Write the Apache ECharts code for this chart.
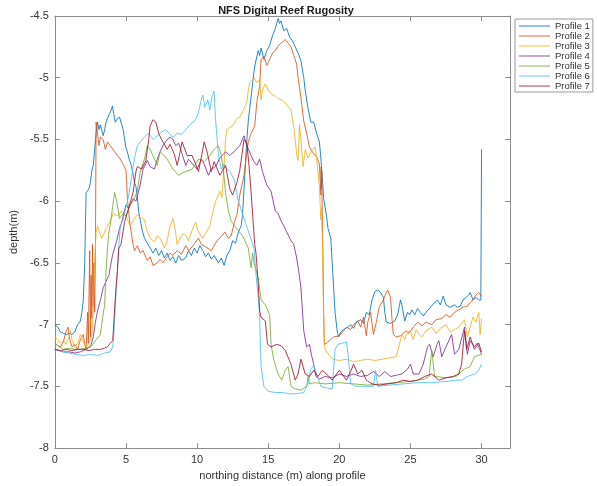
<!DOCTYPE html>
<html>
<head>
<meta charset="utf-8">
<title>NFS Digital Reef Rugosity</title>
<script src="https://cdn.jsdelivr.net/npm/echarts@6/dist/echarts.min.js"></script>
<style>
  html, body { margin: 0; padding: 0; background: #fff; }
  #chart { width: 597px; height: 486px; }
</style>
</head>
<body>
<div id="chart"></div>
<script>
// Depth profiles: [northing distance (m), depth (m)]
const profile1 = [[0,-7.0],[0.2,-7.02],[0.4,-7.06],[0.6,-7.07],[0.8,-7.08],[1.0,-7.07],[1.2,-7.08],[1.4,-7.06],[1.6,-7.0],[1.8,-6.97],[1.9,-6.9],[2.0,-6.8],[2.1,-6.5],[2.15,-6.2],[2.2,-5.93],[2.4,-5.9],[2.5,-5.85],[2.6,-5.75],[2.7,-5.71],[2.8,-5.58],[2.9,-5.45],[3.0,-5.36],[3.1,-5.42],[3.2,-5.38],[3.4,-5.47],[3.5,-5.42],[3.6,-5.36],[3.8,-5.3],[3.9,-5.28],[4.05,-5.23],[4.15,-5.3],[4.25,-5.36],[4.4,-5.33],[4.55,-5.32],[4.7,-5.38],[4.8,-5.42],[5.0,-5.57],[5.1,-5.6],[5.2,-5.65],[5.35,-5.7],[5.5,-5.78],[5.6,-5.85],[5.7,-5.88],[5.8,-5.97],[5.9,-6.09],[6.0,-6.15],[6.15,-6.24],[6.3,-6.3],[6.5,-6.34],[6.7,-6.38],[6.9,-6.42],[7.1,-6.38],[7.3,-6.44],[7.5,-6.4],[7.7,-6.46],[7.9,-6.42],[8.1,-6.48],[8.3,-6.45],[8.5,-6.5],[8.7,-6.44],[8.9,-6.48],[9.2,-6.46],[9.4,-6.4],[9.6,-6.44],[9.8,-6.38],[10.0,-6.42],[10.2,-6.36],[10.4,-6.4],[10.6,-6.45],[10.8,-6.42],[11.0,-6.47],[11.2,-6.44],[11.5,-6.5],[11.7,-6.46],[11.9,-6.52],[12.1,-6.44],[12.3,-6.4],[12.5,-6.32],[12.7,-6.34],[12.9,-6.25],[13.1,-6.2],[13.2,-6.1],[13.3,-5.9],[13.4,-5.7],[13.5,-5.5],[13.6,-5.35],[13.7,-5.25],[13.8,-5.15],[13.9,-5.05],[14.0,-4.95],[14.1,-4.88],[14.3,-4.78],[14.4,-4.82],[14.5,-4.76],[14.7,-4.85],[14.9,-4.78],[15.1,-4.74],[15.3,-4.66],[15.5,-4.6],[15.7,-4.52],[15.8,-4.56],[15.9,-4.54],[16.1,-4.62],[16.3,-4.6],[16.5,-4.67],[16.7,-4.7],[16.9,-4.75],[17.1,-4.8],[17.3,-4.86],[17.5,-5.0],[17.6,-5.1],[17.8,-5.25],[18.0,-5.36],[18.2,-5.36],[18.4,-5.45],[18.6,-5.52],[18.7,-5.65],[18.8,-5.8],[18.9,-5.98],[19.1,-6.12],[19.2,-6.22],[19.4,-6.3],[19.5,-6.5],[19.6,-6.7],[19.7,-6.9],[19.85,-7.05],[19.95,-7.1],[20.1,-7.06],[20.3,-7.04],[20.6,-7.02],[20.8,-7.0],[21.0,-7.03],[21.2,-6.98],[21.5,-6.96],[21.7,-6.99],[21.9,-6.9],[22.1,-6.92],[22.3,-6.8],[22.5,-6.73],[22.7,-6.72],[22.9,-6.74],[23.1,-6.78],[23.2,-6.9],[23.3,-6.98],[23.6,-6.99],[23.9,-6.97],[24.1,-6.92],[24.3,-6.8],[24.4,-6.84],[24.6,-6.97],[24.8,-6.9],[24.95,-6.92],[25.1,-6.88],[25.3,-6.92],[25.5,-6.87],[25.7,-6.9],[25.9,-6.93],[26.1,-6.9],[26.4,-6.86],[26.7,-6.82],[26.9,-6.8],[27.1,-6.84],[27.3,-6.77],[27.5,-6.84],[27.8,-6.86],[28.1,-6.84],[28.3,-6.86],[28.5,-6.85],[28.7,-6.8],[28.9,-6.78],[29.1,-6.76],[29.2,-6.74],[29.4,-6.8],[29.6,-6.78],[29.8,-6.8],[29.95,-6.8],[30.0,-5.58]];

const profile2 = [[0,-7.15],[0.2,-7.17],[0.4,-7.18],[0.6,-7.14],[0.8,-7.05],[0.93,-7.02],[1.05,-7.12],[1.2,-7.18],[1.4,-7.16],[1.6,-7.2],[1.8,-7.12],[2.0,-7.08],[2.1,-7.16],[2.2,-7.2],[2.3,-6.9],[2.35,-7.15],[2.45,-6.4],[2.5,-7.1],[2.55,-6.6],[2.6,-6.95],[2.65,-6.35],[2.7,-6.85],[2.75,-6.5],[2.8,-6.9],[2.85,-6.45],[2.9,-5.36],[3.0,-5.45],[3.1,-5.55],[3.2,-5.48],[3.4,-5.5],[3.55,-5.58],[3.7,-5.52],[3.9,-5.55],[4.2,-5.6],[4.4,-5.63],[4.55,-5.65],[4.8,-5.7],[5.0,-5.75],[5.05,-5.85],[5.1,-5.98],[5.2,-6.1],[5.3,-6.2],[5.5,-6.35],[5.6,-6.4],[5.8,-6.36],[6.0,-6.42],[6.2,-6.4],[6.5,-6.48],[6.7,-6.45],[6.9,-6.52],[7.2,-6.5],[7.4,-6.47],[7.6,-6.5],[7.9,-6.45],[8.1,-6.42],[8.3,-6.44],[8.6,-6.4],[8.9,-6.43],[9.2,-6.36],[9.4,-6.4],[9.65,-6.37],[9.9,-6.33],[10.1,-6.3],[10.3,-6.35],[10.6,-6.37],[11.0,-6.4],[11.2,-6.36],[11.4,-6.32],[11.6,-6.3],[11.95,-6.25],[12.2,-6.3],[12.4,-6.28],[12.6,-6.18],[12.8,-6.11],[13.0,-5.95],[13.3,-5.79],[13.45,-5.65],[13.6,-5.52],[13.8,-5.45],[14.05,-5.39],[14.2,-5.2],[14.4,-5.07],[14.5,-4.85],[14.7,-4.83],[14.9,-4.9],[15.1,-4.85],[15.3,-4.8],[15.5,-4.78],[15.7,-4.74],[15.9,-4.72],[16.2,-4.69],[16.4,-4.72],[16.6,-4.75],[16.8,-4.82],[17.0,-4.89],[17.1,-5.0],[17.3,-5.16],[17.5,-5.35],[17.7,-5.45],[17.9,-5.56],[18.1,-5.6],[18.4,-5.64],[18.6,-5.7],[18.7,-5.95],[18.72,-5.72],[18.74,-5.9],[18.76,-5.75],[18.8,-6.1],[18.85,-6.42],[18.9,-6.9],[18.95,-7.16],[19.1,-7.15],[19.3,-7.13],[19.6,-7.1],[20.0,-7.09],[20.3,-7.05],[20.5,-7.02],[20.8,-7.04],[21.0,-7.0],[21.3,-6.97],[21.5,-7.02],[21.7,-6.94],[21.9,-7.09],[22.0,-6.98],[22.2,-6.9],[22.4,-7.08],[22.6,-6.98],[22.8,-6.86],[23.1,-6.8],[23.3,-6.74],[23.4,-6.72],[23.6,-6.78],[23.7,-6.95],[23.8,-7.08],[24.0,-7.1],[24.3,-7.09],[24.7,-7.05],[24.9,-7.07],[25.2,-7.02],[25.5,-6.98],[25.8,-7.01],[26.1,-6.98],[26.5,-7.0],[26.8,-6.96],[27.2,-6.95],[27.5,-6.92],[27.8,-6.94],[28.1,-6.9],[28.4,-6.88],[28.7,-6.86],[29.0,-6.85],[29.2,-6.82],[29.4,-6.8],[29.6,-6.76],[29.8,-6.74],[30.0,-6.77]];

const profile3 = [[0,-7.1],[0.2,-7.12],[0.4,-7.15],[0.6,-7.13],[0.8,-7.16],[1.0,-7.1],[1.1,-7.05],[1.2,-7.12],[1.4,-7.18],[1.6,-7.15],[1.8,-7.08],[2.0,-7.14],[2.2,-7.18],[2.4,-7.15],[2.6,-7.08],[2.7,-6.9],[2.8,-6.5],[2.9,-6.25],[3.0,-6.2],[3.1,-6.24],[3.3,-6.3],[3.5,-6.25],[3.7,-6.2],[3.9,-6.16],[4.1,-6.1],[4.4,-6.12],[4.7,-6.08],[4.9,-6.1],[5.1,-6.15],[5.3,-6.2],[5.5,-6.16],[5.8,-6.11],[6.0,-6.13],[6.3,-6.15],[6.5,-6.25],[6.7,-6.3],[7.0,-6.33],[7.2,-6.28],[7.4,-6.3],[7.7,-6.38],[7.9,-6.32],[8.1,-6.2],[8.3,-6.14],[8.45,-6.22],[8.6,-6.35],[8.8,-6.3],[9.0,-6.26],[9.2,-6.28],[9.4,-6.32],[9.6,-6.25],[9.9,-6.17],[10.1,-6.25],[10.4,-6.3],[10.6,-6.26],[10.9,-6.2],[11.1,-6.09],[11.3,-6.0],[11.5,-5.95],[11.6,-5.92],[11.75,-5.97],[11.9,-5.7],[12.0,-5.5],[12.1,-5.42],[12.3,-5.4],[12.5,-5.39],[12.7,-5.35],[12.8,-5.33],[13.0,-5.32],[13.1,-5.31],[13.3,-5.25],[13.5,-5.2],[13.6,-5.1],[13.7,-5.04],[13.9,-5.02],[14.0,-5.0],[14.2,-5.04],[14.4,-5.01],[14.5,-5.18],[14.6,-5.1],[14.8,-5.05],[15.0,-5.1],[15.2,-5.13],[15.5,-5.15],[15.7,-5.17],[16.0,-5.18],[16.3,-5.22],[16.6,-5.26],[16.8,-5.4],[16.9,-5.5],[17.0,-5.62],[17.1,-5.67],[17.2,-5.38],[17.3,-5.5],[17.45,-5.72],[17.6,-5.58],[17.8,-5.65],[18.0,-5.6],[18.3,-5.56],[18.4,-5.65],[18.6,-5.88],[18.65,-6.02],[18.7,-6.15],[18.75,-6.05],[18.8,-6.3],[18.85,-6.6],[18.9,-7.0],[18.95,-7.18],[19.1,-7.22],[19.3,-7.25],[19.55,-7.28],[20.0,-7.29],[20.5,-7.28],[21.0,-7.3],[21.5,-7.29],[22.0,-7.28],[22.5,-7.29],[23.0,-7.28],[23.5,-7.27],[24.0,-7.26],[24.2,-7.17],[24.4,-7.08],[24.6,-7.12],[24.8,-7.06],[25.0,-7.05],[25.2,-7.12],[25.4,-7.04],[25.6,-7.08],[25.8,-7.1],[26.1,-7.05],[26.5,-7.02],[26.8,-7.07],[27.1,-7.03],[27.5,-7.0],[27.8,-7.06],[28.1,-7.04],[28.4,-7.02],[28.6,-6.99],[28.8,-6.96],[29.0,-7.1],[29.2,-7.02],[29.4,-6.94],[29.6,-6.98],[29.8,-6.9],[29.9,-7.08],[30.0,-6.95]];

const profile4 = [[0,-7.2],[0.3,-7.21],[0.6,-7.22],[1.0,-7.22],[1.4,-7.23],[1.8,-7.22],[2.2,-7.2],[2.5,-7.18],[2.7,-7.1],[2.85,-6.98],[3.0,-6.89],[3.25,-6.78],[3.4,-6.7],[3.6,-6.65],[3.8,-6.6],[3.95,-6.5],[4.07,-6.43],[4.2,-6.38],[4.35,-6.32],[4.5,-6.24],[4.7,-6.17],[4.85,-6.1],[5.0,-6.03],[5.2,-6.06],[5.5,-5.98],[5.7,-6.0],[6.0,-5.87],[6.2,-5.74],[6.5,-5.67],[6.7,-5.72],[7.0,-5.74],[7.2,-5.66],[7.4,-5.6],[7.6,-5.55],[7.9,-5.5],[8.1,-5.48],[8.3,-5.5],[8.5,-5.55],[8.7,-5.53],[8.9,-5.6],[9.2,-5.71],[9.4,-5.66],[9.7,-5.7],[10.0,-5.74],[10.3,-5.66],[10.5,-5.7],[10.8,-5.79],[11.0,-5.74],[11.3,-5.72],[11.6,-5.65],[12.0,-5.6],[12.3,-5.63],[12.6,-5.6],[13.0,-5.55],[13.3,-5.47],[13.5,-5.55],[13.8,-5.63],[14.0,-5.68],[14.2,-5.71],[14.4,-5.66],[14.6,-5.76],[14.9,-5.87],[15.2,-5.92],[15.5,-6.08],[15.7,-6.1],[15.9,-6.16],[16.1,-6.2],[16.3,-6.25],[16.6,-6.32],[16.8,-6.35],[17.0,-6.46],[17.15,-6.57],[17.3,-6.7],[17.5,-7.05],[17.7,-7.18],[17.9,-7.16],[18.05,-7.25],[18.2,-7.32],[18.35,-7.42],[18.6,-7.44],[19.0,-7.42],[19.5,-7.43],[20.0,-7.4],[20.5,-7.42],[21.0,-7.4],[21.5,-7.42],[22.0,-7.41],[22.4,-7.38],[22.8,-7.42],[23.2,-7.38],[23.6,-7.42],[24.0,-7.41],[24.4,-7.4],[24.8,-7.36],[25.0,-7.32],[25.2,-7.4],[25.6,-7.4],[25.9,-7.32],[26.2,-7.18],[26.35,-7.16],[26.6,-7.26],[26.9,-7.15],[27.0,-7.13],[27.2,-7.26],[27.5,-7.18],[27.9,-7.08],[28.1,-7.24],[28.4,-7.2],[28.8,-7.02],[29.0,-7.24],[29.2,-7.13],[29.5,-7.18],[29.7,-7.15],[30.0,-7.24]];

const profile5 = [[0,-7.15],[0.3,-7.18],[0.6,-7.2],[1.0,-7.19],[1.4,-7.2],[1.8,-7.2],[2.2,-7.19],[2.6,-7.17],[2.9,-7.12],[3.1,-7.1],[3.2,-7.08],[3.35,-6.95],[3.5,-6.84],[3.6,-6.57],[3.7,-6.38],[3.8,-6.25],[3.9,-6.19],[4.0,-6.1],[4.2,-5.93],[4.35,-6.0],[4.55,-6.14],[4.8,-6.1],[5.0,-6.12],[5.3,-6.03],[5.5,-6.0],[5.8,-5.92],[6.0,-5.76],[6.3,-5.66],[6.5,-5.55],[6.7,-5.58],[7.0,-5.66],[7.2,-5.71],[7.4,-5.6],[7.7,-5.63],[7.9,-5.66],[8.3,-5.74],[8.7,-5.79],[9.0,-5.77],[9.2,-5.76],[9.65,-5.74],[10.1,-5.66],[10.5,-5.68],[10.9,-5.63],[11.2,-5.58],[11.5,-5.55],[11.7,-5.63],[11.85,-5.75],[12.0,-5.93],[12.2,-6.08],[12.4,-6.16],[12.9,-6.24],[13.2,-6.28],[13.6,-6.38],[13.8,-6.54],[13.9,-6.42],[14.0,-6.5],[14.3,-6.62],[14.5,-6.8],[14.8,-6.84],[15.1,-6.92],[15.2,-7.16],[15.4,-7.29],[15.7,-7.4],[15.95,-7.45],[16.2,-7.37],[16.4,-7.34],[16.6,-7.5],[16.9,-7.52],[17.3,-7.53],[17.7,-7.5],[17.8,-7.42],[17.9,-7.48],[18.3,-7.47],[19.0,-7.48],[20.0,-7.47],[21.0,-7.48],[22.0,-7.49],[23.0,-7.48],[24.0,-7.47],[25.0,-7.46],[26.0,-7.44],[26.3,-7.42],[26.5,-7.21],[26.7,-7.42],[27.5,-7.43],[28.2,-7.42],[28.8,-7.36],[29.2,-7.34],[29.5,-7.26],[30.0,-7.24]];

const profile6 = [[0,-7.2],[0.5,-7.22],[1.0,-7.23],[1.5,-7.24],[2.0,-7.25],[2.5,-7.24],[3.0,-7.25],[3.5,-7.23],[3.9,-7.22],[4.07,-7.18],[4.15,-7.08],[4.25,-6.84],[4.4,-6.56],[4.5,-6.35],[4.6,-6.2],[4.8,-6.15],[5.0,-6.05],[5.2,-5.95],[5.4,-5.8],[5.6,-5.65],[5.8,-5.55],[6.0,-5.52],[6.3,-5.48],[6.6,-5.45],[6.9,-5.5],[7.2,-5.47],[7.5,-5.44],[7.8,-5.42],[8.1,-5.46],[8.3,-5.48],[8.6,-5.45],[8.9,-5.46],[9.2,-5.42],[9.5,-5.38],[9.7,-5.36],[9.9,-5.34],[10.1,-5.28],[10.25,-5.2],[10.4,-5.14],[10.55,-5.24],[10.75,-5.18],[10.9,-5.26],[11.05,-5.15],[11.2,-5.11],[11.3,-5.34],[11.5,-5.63],[11.7,-5.74],[11.9,-5.7],[12.1,-5.74],[12.3,-5.76],[12.6,-5.82],[12.9,-6.0],[13.3,-6.14],[13.6,-6.24],[14.0,-6.38],[14.1,-6.54],[14.3,-6.78],[14.4,-6.94],[14.5,-7.34],[14.7,-7.5],[15.0,-7.54],[15.5,-7.55],[16.0,-7.55],[16.5,-7.56],[17.0,-7.56],[17.5,-7.55],[17.8,-7.48],[18.0,-7.36],[18.2,-7.33],[18.4,-7.4],[18.7,-7.5],[19.0,-7.51],[19.5,-7.52],[19.7,-7.2],[19.9,-7.16],[20.2,-7.15],[20.5,-7.14],[20.6,-7.22],[20.8,-7.48],[21.2,-7.5],[21.8,-7.5],[22.4,-7.5],[22.55,-7.37],[22.7,-7.5],[23.5,-7.49],[24.5,-7.48],[25.5,-7.47],[26.5,-7.47],[27.5,-7.46],[28.2,-7.45],[28.6,-7.45],[29.0,-7.42],[29.5,-7.4],[29.8,-7.37],[30.0,-7.32]];

const profile7 = [[0,-7.2],[0.4,-7.21],[0.8,-7.2],[1.2,-7.21],[1.6,-7.2],[2.0,-7.2],[2.4,-7.21],[2.8,-7.2],[3.2,-7.2],[3.5,-7.19],[3.7,-7.18],[3.9,-7.15],[4.07,-7.13],[4.15,-6.97],[4.3,-6.7],[4.4,-6.56],[4.5,-6.38],[4.65,-6.35],[4.9,-6.17],[5.2,-6.05],[5.5,-5.93],[5.7,-5.76],[5.8,-5.72],[6.1,-5.74],[6.4,-5.67],[6.6,-5.5],[6.7,-5.39],[6.9,-5.34],[7.1,-5.36],[7.3,-5.45],[7.5,-5.5],[7.9,-5.58],[8.1,-5.54],[8.4,-5.62],[8.6,-5.71],[8.95,-5.52],[9.3,-5.63],[9.65,-5.63],[10.1,-5.76],[10.5,-5.52],[10.7,-5.6],[11.0,-5.76],[11.2,-5.68],[11.6,-5.79],[12.0,-5.71],[12.3,-5.9],[12.5,-5.95],[12.8,-5.85],[13.0,-5.75],[13.3,-5.5],[13.5,-5.53],[13.65,-5.71],[13.8,-5.93],[14.05,-6.35],[14.15,-6.43],[14.3,-6.67],[14.4,-6.89],[14.5,-6.94],[14.8,-6.97],[14.95,-7.16],[15.2,-7.18],[15.6,-7.16],[15.9,-7.17],[16.2,-7.21],[16.6,-7.32],[16.9,-7.45],[17.1,-7.4],[17.3,-7.28],[17.6,-7.4],[17.9,-7.42],[18.2,-7.37],[18.5,-7.42],[18.8,-7.37],[19.1,-7.4],[19.5,-7.45],[19.8,-7.4],[20.0,-7.37],[20.5,-7.45],[20.8,-7.38],[21.0,-7.32],[21.3,-7.4],[21.6,-7.37],[21.9,-7.45],[22.3,-7.48],[22.8,-7.49],[23.4,-7.48],[24.0,-7.47],[24.5,-7.45],[25.0,-7.46],[25.5,-7.45],[26.0,-7.42],[26.5,-7.4],[27.0,-7.45],[27.5,-7.43],[28.0,-7.42],[28.4,-7.4],[28.6,-7.32],[28.7,-7.18],[28.8,-7.05],[28.95,-7.2],[29.2,-7.1],[29.5,-7.2],[29.8,-7.15],[30.0,-7.22]];

const profileNames = ['Profile 1','Profile 2','Profile 3','Profile 4','Profile 5','Profile 6','Profile 7'];
const profiles = [profile1, profile2, profile3, profile4, profile5, profile6, profile7];
const lineColors = ['#0072BD','#D95319','#EDB120','#7E2F8E','#77AC30','#4DBEEE','#A2142F'];

const FONT = '"Liberation Sans", Arial, Helvetica, sans-serif';
const AXIS_GRAY = '#8c8c8c';
const TEXT_GRAY = '#333333';

const chart = echarts.init(document.getElementById('chart'), null, { renderer: 'canvas' });

// A boxed frame: labelled bottom/left axes plus mirrored top/right axes with inward ticks.
function frameX(position, showLabels) {
  return {
    type: 'value', position: position, min: 0, max: 32, interval: 5,
    axisLine: { show: true, onZero: false, lineStyle: { color: AXIS_GRAY, width: 1 } },
    axisTick: { show: true, inside: true, length: 5, lineStyle: { color: AXIS_GRAY } },
    axisLabel: { show: showLabels, showMaxLabel: false, margin: 6, color: TEXT_GRAY, fontSize: 11, fontFamily: FONT },
    splitLine: { show: false },
    name: showLabels ? 'northing distance (m) along profile' : '',
    nameLocation: 'middle', nameGap: 15,
    nameTextStyle: { color: TEXT_GRAY, fontSize: 11, fontFamily: FONT }
  };
}
function frameY(position, showLabels) {
  return {
    type: 'value', position: position, min: -8, max: -4.5, interval: 0.5,
    axisLine: { show: true, onZero: false, lineStyle: { color: AXIS_GRAY, width: 1 } },
    axisTick: { show: true, inside: true, length: 5, lineStyle: { color: AXIS_GRAY } },
    axisLabel: { show: showLabels, margin: 6, color: TEXT_GRAY, fontSize: 11, fontFamily: FONT },
    splitLine: { show: false },
    name: showLabels ? 'depth(m)' : '',
    nameLocation: 'middle', nameGap: 27, nameRotate: 90,
    nameTextStyle: { color: TEXT_GRAY, fontSize: 11, fontFamily: FONT }
  };
}

chart.setOption({
  animation: false,
  backgroundColor: '#ffffff',
  title: {
    text: 'NFS Digital Reef Rugosity',
    left: 281, top: 0, textAlign: 'center',
    textStyle: { fontSize: 11, fontWeight: 'bold', color: '#1a1a1a', fontFamily: FONT }
  },
  legend: {
    orient: 'vertical', left: 515, top: 19,
    padding: [2, 3, 1, 4],
    backgroundColor: '#ffffff', borderColor: '#9a9a9a', borderWidth: 1,
    icon: 'rect', itemWidth: 31, itemHeight: 1.2, itemGap: 0,
    textStyle: { fontSize: 9.5, lineHeight: 10, color: TEXT_GRAY, fontFamily: FONT },
    data: profileNames
  },
  grid: { left: 52, top: 16, width: 458, height: 436, containLabel: false },
  xAxis: [frameX('bottom', true), frameX('top', false)],
  yAxis: [frameY('left', true), frameY('right', false)],
  series: profiles.map((data, i) => ({
    name: profileNames[i],
    type: 'line',
    xAxisIndex: 0, yAxisIndex: 0,
    data: data,
    showSymbol: false,
    symbol: 'none',
    color: lineColors[i],
    lineStyle: { width: 1, color: lineColors[i], opacity: 0.85 },
    itemStyle: { color: lineColors[i], opacity: 0.7 }
  }))
});
</script>
</body>
</html>
